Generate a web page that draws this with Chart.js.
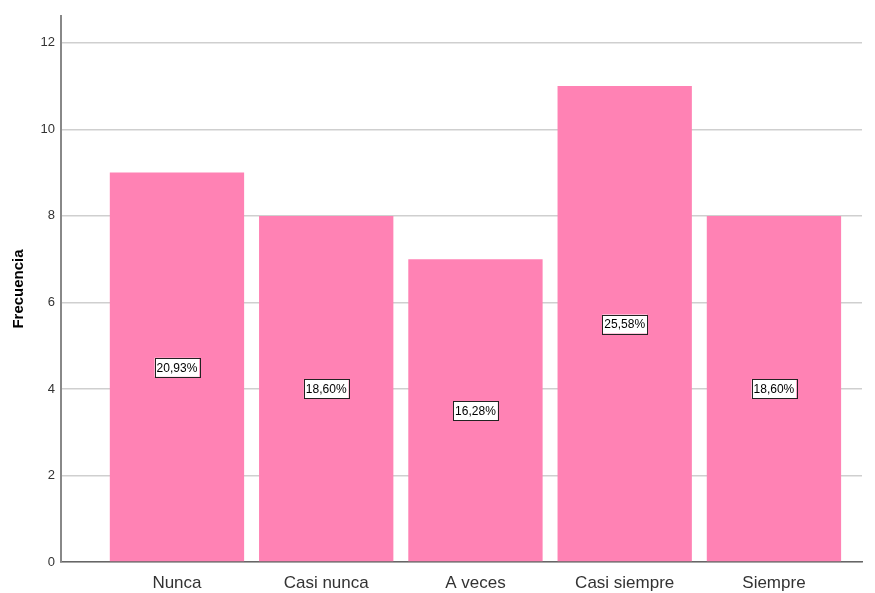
<!DOCTYPE html>
<html>
<head>
<meta charset="utf-8">
<script src="https://cdn.jsdelivr.net/npm/chart.js@4.4.0/dist/chart.umd.min.js"></script>
<style>
  html, body { margin: 0; padding: 0; background: #fff; }
  #wrap { width: 875px; height: 593px; position: relative; }
</style>
</head>
<body>
<div id="wrap"><canvas id="chart"></canvas></div>
<script>
// categories and counts
const categories = ['Nunca', 'Casi nunca', 'A veces', 'Casi siempre', 'Siempre'];
const counts = [9, 8, 7, 11, 8];
const percentLabels = ['20,93%', '18,60%', '16,28%', '25,58%', '18,60%'];
const yTicks = [0, 2, 4, 6, 8, 10, 12];

const pink = 'rgb(255, 130, 180)';

// boxed percentage label in the middle of each bar
const boxLabels = {
    id: 'boxLabels',
    afterDatasetsDraw(chart) {
        const ctx = chart.ctx;
        const meta = chart.getDatasetMeta(0);
        ctx.save();
        ctx.font = '12px "Liberation Sans", Arial, sans-serif';
        ctx.textAlign = 'center';
        ctx.textBaseline = 'middle';
        meta.data.forEach((bar, i) => {
            const y = chart.scales.y.getPixelForValue(counts[i] / 2);
            const text = percentLabels[i];
            const w = ctx.measureText(text).width + 4;
            const h = 19;
            ctx.fillStyle = '#fff';
            ctx.fillRect(bar.x - w / 2, y - h / 2, w, h);
            ctx.strokeStyle = '#222';
            ctx.lineWidth = 1;
            ctx.strokeRect(Math.round(bar.x - w / 2) + 0.5, Math.round(y - h / 2) + 0.5, Math.round(w), h);
            ctx.fillStyle = '#000';
            ctx.fillText(text, bar.x, y + 1);
        });
        ctx.restore();
    }
};

new Chart(document.getElementById('chart').getContext('2d'), {
    type: 'bar',
    data: {
        datasets: [{
            data: counts.map((v, i) => ({ x: i, y: v })),
            backgroundColor: pink,
            borderWidth: 0,
            barPercentage: 0.9,
            categoryPercentage: 1.0
        }]
    },
    options: {
        responsive: true,
        maintainAspectRatio: false,
        animation: false,
        layout: { padding: { top: 16, right: 13, left: 0, bottom: 0 } },
        plugins: {
            legend: { display: false },
            tooltip: { enabled: false }
        },
        scales: {
            x: {
                type: 'linear',
                min: -0.777,
                max: 4.59,
                offset: false,
                grid: { display: false, drawTicks: false },
                border: { display: true, color: '#666', width: 1.5 },
                afterBuildTicks(scale) {
                    scale.ticks = categories.map((c, i) => ({ value: i }));
                },
                afterFit(scale) { scale.height = 31; },
                ticks: {
                    autoSkip: false,
                    maxRotation: 0,
                    padding: 11,
                    color: '#333',
                    font: { family: '"Liberation Sans", Arial, sans-serif', size: 17 },
                    callback: (v) => categories[v]
                }
            },
            y: {
                min: 0,
                max: 12.62,
                afterBuildTicks(scale) {
                    scale.ticks = yTicks.map(v => ({ value: v }));
                },
                afterFit(scale) { scale.width = 61; },
                grid: { color: '#cfcfcf', lineWidth: 1.5, drawTicks: false },
                border: { display: true, color: '#888', width: 2 },
                ticks: {
                    padding: 6,
                    color: '#333',
                    font: { family: '"Liberation Sans", Arial, sans-serif', size: 13 }
                },
                title: {
                    display: true,
                    text: 'Frecuencia',
                    color: '#000',
                    padding: { top: 10, bottom: 0 },
                    font: { family: '"Liberation Sans", Arial, sans-serif', size: 15, weight: 'bold' }
                }
            }
        }
    },
    plugins: [boxLabels]
});
</script>
</body>
</html>
